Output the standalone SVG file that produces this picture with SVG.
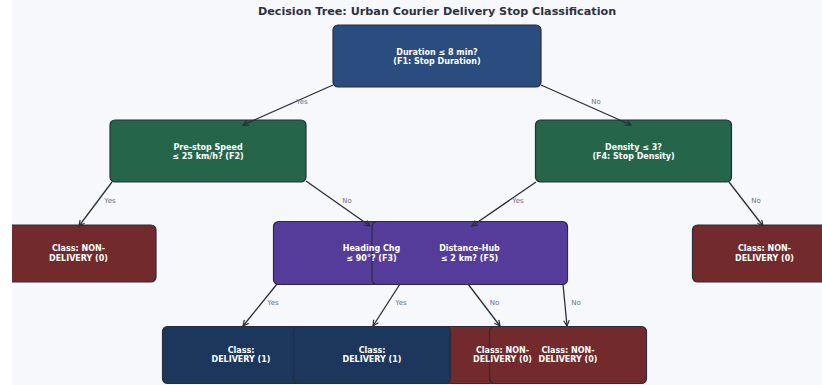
<svg xmlns="http://www.w3.org/2000/svg" width="822" height="385" viewBox="0 0 822 385">
<style>
.box{stroke:#2b2d3a;stroke-width:1.2}
.root{fill:#2b4c7e}
.green{fill:#25654a}
.purple{fill:#553c9a}
.red{fill:#722a2c}
.navy{fill:#1c365c}
.nt{font-family:"DejaVu Sans",sans-serif;font-weight:bold;font-size:8px;fill:#ffffff;text-anchor:middle}
.lbl{font-family:"DejaVu Sans",sans-serif;font-size:7px;fill:#6b7080;text-anchor:middle}
.edge{stroke:#2b2d3a;stroke-width:1.3;fill:none;marker-end:url(#arr)}
.title{font-family:"DejaVu Sans",sans-serif;font-weight:bold;font-size:11.2px;fill:#2d3142;text-anchor:middle}
</style>
<defs>
<marker id="arr" viewBox="0 0 10 10" refX="9" refY="5" markerWidth="7" markerHeight="7" orient="auto" markerUnits="userSpaceOnUse">
<path d="M1,1 L9,5 L1,9" fill="none" stroke="#2b2d3a" stroke-width="1.7"/>
</marker>
<clipPath id="ax"><rect x="12" y="0" width="810" height="385"/></clipPath>
</defs>
<rect x="0" y="0" width="822" height="385" fill="#ffffff"/>
<rect x="12" y="0" width="810" height="385" fill="#f7f8fc"/>
<text class="title" x="437" y="15.3">Decision Tree: Urban Courier Delivery Stop Classification</text>
<g id="n_root"><rect class="box root" x="333" y="25" width="208" height="62" rx="5"/></g>
<g id="n_speed"><rect class="box green" x="110" y="120" width="196" height="62" rx="5"/></g>
<g id="n_density"><rect class="box green" x="535.5" y="120" width="196" height="62" rx="5"/></g>
<g id="n_leafL" clip-path="url(#ax)"><rect class="box red" x="1" y="225" width="155" height="57" rx="5"/></g>
<g id="n_leafR" clip-path="url(#ax)"><rect class="box red" x="692.5" y="225" width="145" height="57" rx="5"/></g>
<g id="n_heading"><rect class="box purple" x="273.5" y="221.5" width="196" height="63" rx="5"/></g>
<g id="n_hub"><rect class="box purple" x="372" y="221.5" width="195.5" height="63" rx="5"/></g>
<g id="n_d1"><rect class="box navy" x="162.5" y="326.5" width="157" height="57" rx="5"/></g>
<g id="n_n3"><rect class="box red" x="424" y="326.5" width="157" height="57" rx="5"/></g>
<g id="n_d2"><rect class="box navy" x="293.5" y="326.5" width="157" height="57" rx="5"/></g>
<g id="n_n4"><rect class="box red" x="489.5" y="326.5" width="157" height="57" rx="5"/></g>
<g id="connectors">
<line class="edge" x1="333" y1="85" x2="243" y2="125"/>
<line class="edge" x1="541" y1="85" x2="631" y2="125"/>
<line class="edge" x1="112" y1="182" x2="79" y2="226"/>
<line class="edge" x1="306" y1="181" x2="370" y2="226"/>
<line class="edge" x1="536" y1="182" x2="472" y2="226"/>
<line class="edge" x1="729" y1="182" x2="763" y2="226"/>
<line class="edge" x1="277" y1="284" x2="243" y2="326"/>
<line class="edge" x1="400" y1="284" x2="373" y2="326"/>
<line class="edge" x1="468" y1="284" x2="500" y2="326"/>
<line class="edge" x1="563" y1="284" x2="567" y2="326"/>
<text class="lbl" x="302" y="104">Yes</text>
<text class="lbl" x="596" y="104">No</text>
<text class="lbl" x="110" y="203">Yes</text>
<text class="lbl" x="347" y="203">No</text>
<text class="lbl" x="518" y="203">Yes</text>
<text class="lbl" x="756" y="203">No</text>
<text class="lbl" x="273" y="304.5">Yes</text>
<text class="lbl" x="401" y="304.5">Yes</text>
<text class="lbl" x="494.5" y="304.5">No</text>
<text class="lbl" x="576" y="304.5">No</text>
</g>
<g id="labels">
<text class="nt" x="437" y="54.7">Duration ≤ 8 min?</text>
<text class="nt" x="437" y="64.2">(F1: Stop Duration)</text>
<text class="nt" x="208" y="149.5">Pre-stop Speed</text>
<text class="nt" x="208" y="159">≤ 25 km/h? (F2)</text>
<text class="nt" x="633.5" y="149.5">Density ≤ 3?</text>
<text class="nt" x="633.5" y="159">(F4: Stop Density)</text>
<text class="nt" x="78.5" y="251">Class: NON-</text>
<text class="nt" x="78.5" y="260.5">DELIVERY (0)</text>
<text class="nt" x="764.5" y="251">Class: NON-</text>
<text class="nt" x="764.5" y="260.5">DELIVERY (0)</text>
<text class="nt" x="371.5" y="251">Heading Chg</text>
<text class="nt" x="371.5" y="260.5">≤ 90°? (F3)</text>
<text class="nt" x="469.5" y="251">Distance-Hub</text>
<text class="nt" x="469.5" y="260.5">≤ 2 km? (F5)</text>
<text class="nt" x="241" y="353">Class:</text>
<text class="nt" x="241" y="362.3">DELIVERY (1)</text>
<text class="nt" x="372" y="353">Class:</text>
<text class="nt" x="372" y="362.3">DELIVERY (1)</text>
<text class="nt" x="502.5" y="353">Class: NON-</text>
<text class="nt" x="502.5" y="362.3">DELIVERY (0)</text>
<text class="nt" x="568" y="353">Class: NON-</text>
<text class="nt" x="568" y="362.3">DELIVERY (0)</text>
</g>
</svg>
